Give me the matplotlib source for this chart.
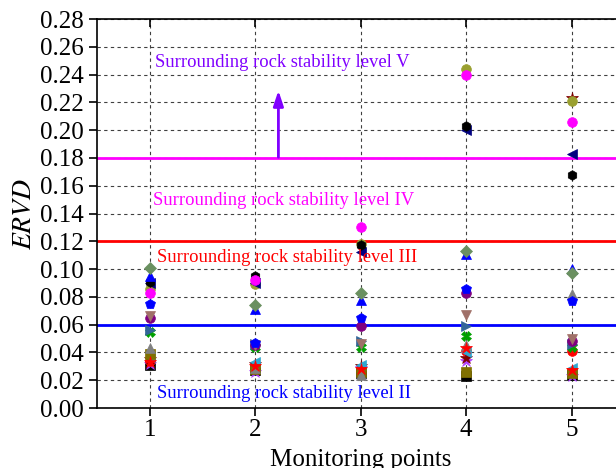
import numpy as np
import matplotlib
matplotlib.use("Agg")
import matplotlib.pyplot as plt

plt.rcParams['font.family'] = ['Liberation Serif', 'DejaVu Serif']
plt.rcParams['mathtext.fontset'] = 'stix'

# monitoring points
points = [1, 2, 3, 4, 5]

# ERVD values of each monitoring series
s_diamond = [0.101, 0.074, 0.083, 0.113, 0.097]
s_tri_blue = [0.095, 0.071, 0.078, 0.111, 0.100]
s_hex_black = [0.091, 0.095, 0.117, 0.203, 0.168]
s_left_navy = [0.090, 0.090, 0.112, 0.200, 0.183]
s_ball_mag = [0.083, 0.092, 0.130, 0.240, 0.206]
s_olive_ball = [0.086, 0.089, 0.118, 0.244, 0.221]
s_pent_blue = [0.075, 0.047, 0.065, 0.086, 0.077]
s_down_brown = [0.066, 0.045, 0.046, 0.067, 0.050]
s_purple = [0.065, 0.045, 0.059, 0.083, 0.048]
s_right_steel = [0.056, 0.046, 0.048, 0.059, 0.046]
s_star_green = [0.055, 0.044, 0.044, 0.052, 0.044]
s_tri_gray = [0.043, 0.029, 0.024, 0.045, 0.082]
s_sq_olive = [0.039, 0.028, 0.026, 0.026, 0.025]
s_left_cyan = [0.037, 0.033, 0.031, 0.040, 0.029]
s_star_dred = [0.035, 0.032, 0.030, 0.036, 0.223]
s_ball_red = [0.034, 0.030, 0.027, 0.041, 0.041]
s_star_red = [0.033, 0.030, 0.028, 0.043, 0.027]
s_star_violet = [0.032, 0.026, 0.029, 0.034, 0.023]
s_sq_black = [0.031, 0.027, 0.025, 0.023, 0.024]

series = [
    (s_sq_black, 's', 'black'),
    (s_star_violet, '*', '#b040ff'),
    (s_ball_red, 'o', 'red'),
    (s_star_dred, '*', '#800000'),
    (s_left_cyan, '<', '#30a8d0'),
    (s_sq_olive, 's', '#807000'),
    (s_tri_gray, '^', 'gray'),
    (s_star_red, '*', 'red'),
    (s_star_green, 'X', '#00a000'),
    (s_right_steel, '>', '#336699'),
    (s_purple, 'o', '#800080'),
    (s_down_brown, 'v', '#a07068'),
    (s_pent_blue, 'p', 'blue'),
    (s_olive_ball, 'o', '#9aa030'),
    (s_left_navy, '<', '#000080'),
    (s_hex_black, 'h', 'black'),
    (s_ball_mag, 'o', 'magenta'),
    (s_tri_blue, '^', 'blue'),
    (s_diamond, 'D', '#6a9060'),
]

# stability level boundaries
levels = [0.06, 0.12, 0.18]
level_colors = ['blue', 'red', 'magenta']

level_text = ['Surrounding rock stability level II', 'Surrounding rock stability level III',
              'Surrounding rock stability level IV', 'Surrounding rock stability level V']
text_y = [0.0105, 0.1085, 0.1495, 0.2485]
text_x = [1.07, 1.07, 1.03, 1.05]
text_colors = ['blue', 'red', 'magenta', '#8000ff']

fig = plt.figure(figsize=(6.16, 4.68), dpi=100)
ax = fig.add_axes([0.1575, 0.1282, 0.856, 0.8312])

for vals, mk, col in series:
    ms = 9 if mk == '*' else 7
    if mk == 'D':
        ms = 6
    ax.plot(points, vals, linestyle='none', marker=mk, color=col, markersize=ms,
            markeredgewidth=0.5, zorder=3)

for lv, col in zip(levels, level_colors):
    ax.axhline(lv, color=col, lw=2, zorder=2)

for t, xx, yy, col in zip(level_text, text_x, text_y, text_colors):
    ax.text(xx, yy, t, color=col, fontsize=13.4, va='center', ha='left', zorder=4)

ax.annotate('', xy=(2.22, 0.2305), xytext=(2.22, 0.1785),
            arrowprops=dict(arrowstyle='-|>,head_width=0.3,head_length=0.9',
                            color='#8000ff', lw=2), zorder=4)

ax.set_xlim(0.5, 5.5)
ax.set_ylim(0, 0.28)
ax.set_xticks(points)
ax.set_yticks(np.arange(0, 0.281, 0.02))
ax.set_yticklabels(['%.2f' % v for v in np.arange(0, 0.281, 0.02)])
ax.tick_params(axis='both', labelsize=18, direction='out', length=6, width=1.2)
ax.tick_params(axis='x', top=True, pad=2)
for tk in ax.xaxis.get_major_ticks():
    tk.tick2line.set_marker(3)  # inward on top
ax.grid(True, color='0.25', ls=(0, (3, 3)), lw=0.8, zorder=1)
for sp in ax.spines.values():
    sp.set_linewidth(1.2)

ax.set_xlabel('Monitoring points', fontsize=18, labelpad=6)
ax.set_ylabel('$ERVD$', fontsize=20, labelpad=2)

fig.savefig('out.png', dpi=100)
